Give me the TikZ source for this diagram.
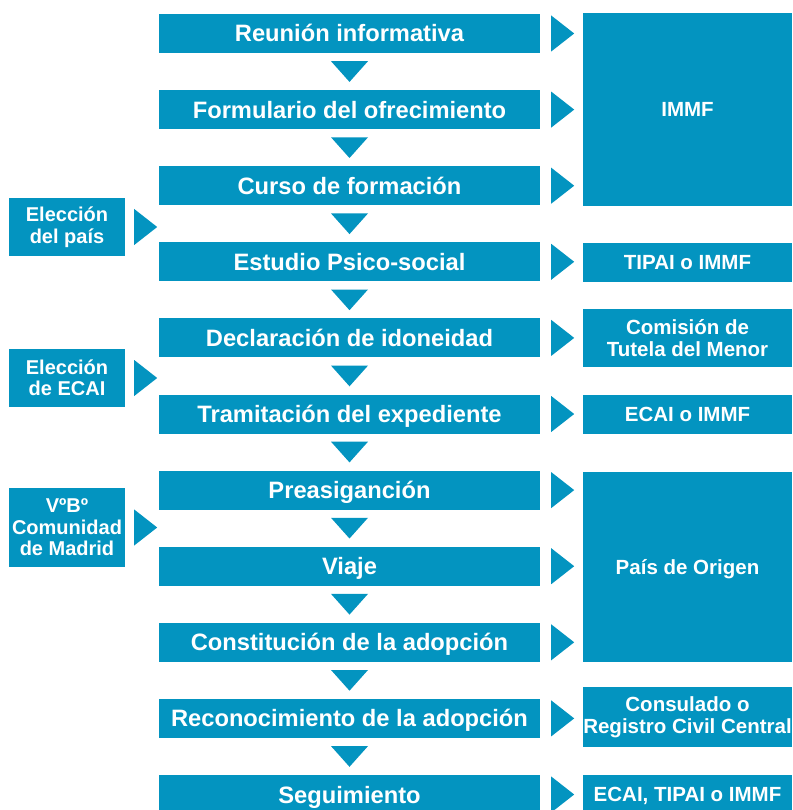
\documentclass[tikz,border=0pt]{standalone}
\usepackage{fontspec}
\setmainfont{Liberation Sans}
\usetikzlibrary{calc}
\definecolor{blu}{RGB}{3,148,192}
\begin{document}
\begin{tikzpicture}[x=1pt,y=-1pt,
  mainbox/.style={fill=blu,text=white,minimum width=381pt,minimum height=39pt,inner sep=0pt,text height=17pt,text depth=0pt,font=\fontsize{23.7}{26}\selectfont\bfseries},
  rightbox/.style={fill=blu,text=white,minimum width=209pt,inner sep=0pt,align=center,font=\fontsize{20.5}{22}\selectfont\bfseries},
  oneline/.style={text height=14.7pt,text depth=0pt},
  leftbox/.style={fill=blu,text=white,minimum width=116pt,inner sep=0pt,align=center,font=\fontsize{20}{21.5}\selectfont\bfseries},
  tri/.style={fill=blu}]
\useasboundingbox (0,0) rectangle (792,810);
\clip (0,0) rectangle (792,810);
% main column
\node[mainbox] (r1) at (349.5,33.5) {Reunión informativa};
\node[mainbox] (r2) at (349.5,109.6) {Formulario del ofrecimiento};
\node[mainbox] (r3) at (349.5,185.7) {Curso de formación};
\node[mainbox] (r4) at (349.5,261.8) {Estudio Psico-social};
\node[mainbox] (r5) at (349.5,337.9) {Declaración de idoneidad};
\node[mainbox] (r6) at (349.5,414.0) {Tramitación del expediente};
\node[mainbox] (r7) at (349.5,490.1) {Preasiganción};
\node[mainbox] (r8) at (349.5,566.2) {Viaje};
\node[mainbox] (r9) at (349.5,642.3) {Constitución de la adopción};
\node[mainbox] (r10) at (349.5,718.4) {Reconocimiento de la adopción};
\node[mainbox] (r11) at (349.5,794.5) {Seguimiento};
% right column
\node[rightbox,oneline,minimum height=193pt] (i1) at (687.5,109.5) {IMMF};
\node[rightbox,oneline,minimum height=39pt] (i2) at (687.5,262.5) {TIPAI o IMMF};
\node[rightbox,minimum height=58pt] (i3) at (687.5,338) {Comisión de\\Tutela del Menor};
\node[rightbox,oneline,minimum height=39pt] (i4) at (687.5,414.5) {ECAI o IMMF};
\node[rightbox,oneline,minimum height=190pt] (i5) at (687.5,567) {País de Origen};
\node[rightbox,minimum height=60pt] (i6) at (687.5,717) {Consulado o\\Registro Civil Central};
\node[rightbox,oneline,minimum height=39pt] (i7) at (687.5,794.5) {ECAI, TIPAI o IMMF};
% left column
\node[leftbox,minimum height=58pt] (l1) at (67,227) {Elección\\del país};
\node[leftbox,minimum height=58pt] (l2) at (67,378) {Elección\\de ECAI};
\node[leftbox,minimum height=79pt] (l3) at (67,527.5) {VºBº\\Comunidad\\de Madrid};
% down triangles
\foreach \a/\b in {r1/r2,r2/r3,r3/r4,r4/r5,r5/r6,r6/r7,r7/r8,r8/r9,r9/r10,r10/r11}{
  \fill[tri] ($(\a.south)+(-18.5,8)$) -- ($(\a.south)+(18.5,8)$) -- ($(\b.north)+(0,-8)$) -- cycle;
}
% right triangles
\foreach \a in {r1,r2,r3,r4,r5,r6,r7,r8,r9,r10,r11}{
  \fill[tri] ($(\a.east)+(11,-18)$) -- ($(\a.east)+(11,18)$) -- ($(\a.east)+(34,0)$) -- cycle;
}
% left triangles
\foreach \a in {l1,l2,l3}{
  \fill[tri] ($(\a.east)+(9,-18)$) -- ($(\a.east)+(9,18)$) -- ($(\a.east)+(32,0)$) -- cycle;
}
\end{tikzpicture}
\end{document}
